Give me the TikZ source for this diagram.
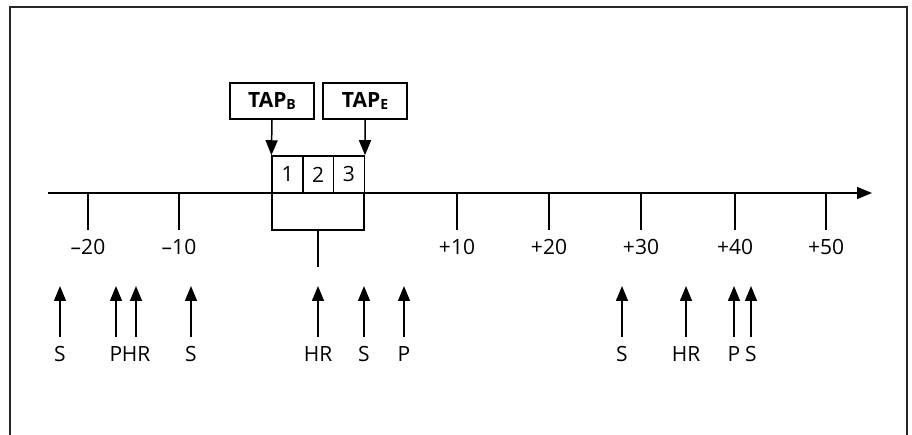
\documentclass[tikz,border=0pt]{standalone}
\usepackage{fontspec}
\setmainfont{Open Sans}
\usetikzlibrary{arrows.meta}
\begin{document}
\begin{tikzpicture}[x=1pt,y=-1pt,line width=1.5pt,line cap=butt,
  lab/.style={font=\fontsize{21}{24}\selectfont,inner sep=0pt,anchor=base},
  arr/.style={-{Triangle[length=15pt,width=12pt]}},
  cell/.style={draw,minimum width=30.7pt,minimum height=37pt,inner sep=0pt,font=\fontsize{21}{24}\selectfont},
  tapbox/.style={draw,minimum width=84pt,minimum height=36pt,inner sep=0pt,font=\fontsize{21}{24}\selectfont\bfseries}]
\useasboundingbox (0,0) rectangle (912,435);
% frame
\draw[line width=1.6pt,black!85] (10,435) -- (10,7) -- (907,7) -- (907,435);
% axis
\coordinate (a0) at (48,193);
\coordinate (a1) at (872,193);
\draw[arr] (a0) -- (a1);
% ticks and labels
\foreach \x/\t/\n in {88/{–20}/m20,179/{–10}/m10,457/{+10}/p10,549/{+20}/p20,641/{+30}/p30,735/{+40}/p40,826/{+50}/p50}{
  \coordinate (t\n) at (\x,193);
  \coordinate (b\n) at (\x,230);
  \draw (t\n) -- (b\n);
  \node[lab] (l\n) at (\x,255) {\t};
}
% cells
\node[cell] (c1) at (287.5,174.5) {1};
\node[cell] (c2) at (318.2,174.5) {2};
\node[cell] (c3) at (348.9,174.5) {3};
\node[draw,minimum width=92pt,minimum height=37pt,inner sep=0pt] (lower) at (318,211.5) {};
\coordinate (stem) at (318,267);
\draw (lower.south) -- (stem);
% TAP boxes
\node[tapbox] (tapb) at (272,101) {TAP\raisebox{-2pt}{\fontsize{14}{16}\selectfont B}};
\node[tapbox] (tape) at (365,101) {TAP\raisebox{-2pt}{\fontsize{14}{16}\selectfont E}};
\draw[arr] (tapb.south) -- (c1.north west);
\draw[arr] (tape.south) -- (c3.north east);
% bottom arrows
\foreach \x/\t/\n in {60/S/e1,116/P/e2,136/HR/e3,191/S/e4,318/HR/e5,364/S/e6,404/P/e7,622/S/e8,686/HR/e9,734/P/e10,751/S/e11}{
  \node[lab] (n\n) at (\x,361) {\t};
  \coordinate (s\n) at (\x,337);
  \coordinate (h\n) at (\x,286);
  \draw[arr] (s\n) -- (h\n);
}
\end{tikzpicture}
\end{document}
